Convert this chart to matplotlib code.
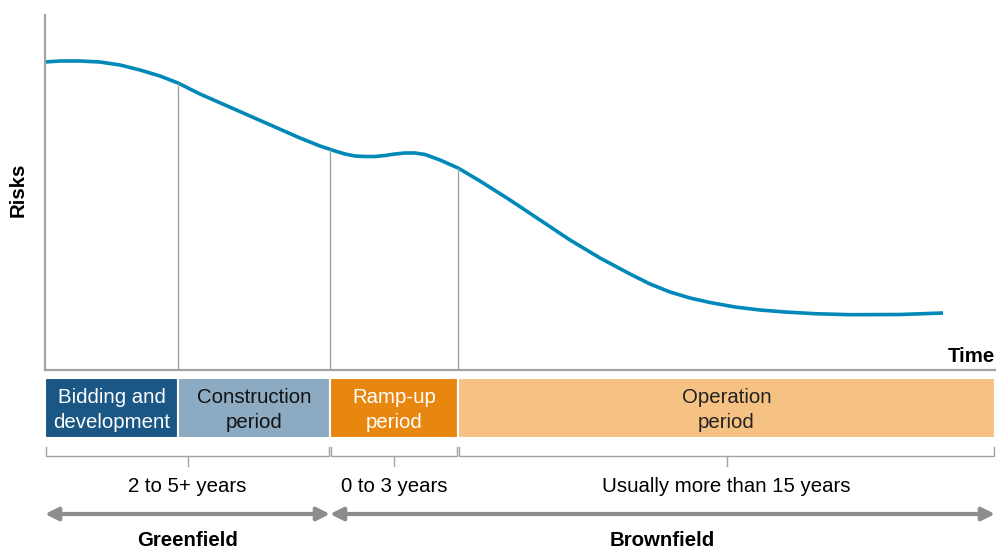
import matplotlib.pyplot as plt
import numpy as np

plt.rcParams['font.family'] = ['Liberation Sans', 'DejaVu Sans']

# risk curve (time units along x, risk units up)
time = [0, 15, 35, 55, 75, 95, 115, 133, 155, 180, 205, 230, 255, 275, 290, 300,
        310, 320, 330, 340, 350, 360, 370, 380, 395, 413, 435, 465, 495, 525,
        555, 585, 605, 625, 645, 665, 690, 715, 740, 770, 805, 855, 898]
risk = [308, 309, 309, 308, 305, 300, 294, 287, 276, 265, 254, 243, 232, 224, 219,
        216, 214, 213.5, 213.5, 214.5, 216, 217, 217, 215.5, 210, 202, 189, 170,
        150, 130, 112, 96, 86, 78, 72, 67.5, 63, 60, 58, 56.3, 55.3, 55.5, 57]

phase_names = ["Bidding and\ndevelopment", "Construction\nperiod", "Ramp-up\nperiod", "Operation\nperiod"]
phase_start = [0, 133, 285, 413]
phase_end = [133, 285, 413, 950]
phase_colors = ["#1B5784", "#8CAAC2", "#E8870F", "#F5C283"]
phase_text = ["white", "#111111", "white", "#222222"]

durations = ["2 to 5+ years", "0 to 3 years", "Usually more than 15 years"]
dur_start = [0, 285, 413]
dur_end = [285, 413, 950]

fields = ["Greenfield", "Brownfield"]
field_start = [0, 285]
field_end = [285, 950]

font_style = {'size': 14.7, 'color': 'black'}
grey = "#A3A3A3"

fig = plt.figure(figsize=(9.96, 5.5), dpi=100)

# --- curve ---
ax = fig.add_axes([45 / 996, 180 / 550, 950 / 996, 355 / 550])
ax.set_xlim(0, 950)
ax.set_ylim(0, 355)
ax.plot(time, risk, color="#0088B8", lw=2.6, solid_capstyle='butt', solid_joinstyle='round')
for b in phase_start[1:]:
    ax.vlines(b, 0, np.interp(b, time, risk), color=grey, lw=1)
for s in ['top', 'right']:
    ax.spines[s].set_visible(False)
for s in ['left', 'bottom']:
    ax.spines[s].set_color(grey)
    ax.spines[s].set_linewidth(1.6)
ax.set_xticks([])
ax.set_yticks([])
fig.text(18 / 996, 1 - 190 / 550, "Risks", rotation=90, ha='center', va='center',
         fontweight='bold', **font_style)
fig.text(995 / 996, 1 - 356 / 550, "Time", ha='right', va='center',
         fontweight='bold', **font_style)

# --- phases / durations / fields ---
ax2 = fig.add_axes([45 / 996, 0, 950 / 996, 178 / 550])
ax2.set_xlim(0, 950)
ax2.set_ylim(550, 372)
ax2.axis('off')

for name, s, e, c, tc in zip(phase_names, phase_start, phase_end, phase_colors, phase_text):
    ax2.bar(s, 60, width=e - s, bottom=378, align='edge', color=c,
            edgecolor='white', lw=1.5)
    ax2.text((s + e) / 2, 410, name, ha='center', va='center', color=tc,
             fontsize=14.7, linespacing=1.45)

for label, s, e in zip(durations, dur_start, dur_end):
    s2, e2 = s + 1, e - 1
    mid = (s + e) / 2
    ax2.plot([s2, s2, e2, e2], [447, 456, 456, 447], color=grey, lw=1, clip_on=False)
    ax2.plot([mid, mid], [456, 466], color=grey, lw=1, clip_on=False)
    ax2.text(mid, 486, label, ha='center', va='center', **font_style)

for label, s, e in zip(fields, field_start, field_end):
    ax2.annotate("", xy=(e, 514), xytext=(s, 514),
                 arrowprops=dict(arrowstyle='<|-|>', color="#8C8C8C", lw=3,
                                 mutation_scale=19, shrinkA=0, shrinkB=0),
                 annotation_clip=False)
    ax2.text((s + e) / 2, 540, label, ha='center', va='center',
             fontweight='bold', **font_style)

plt.savefig("out.png", dpi=100)
plt.close()
